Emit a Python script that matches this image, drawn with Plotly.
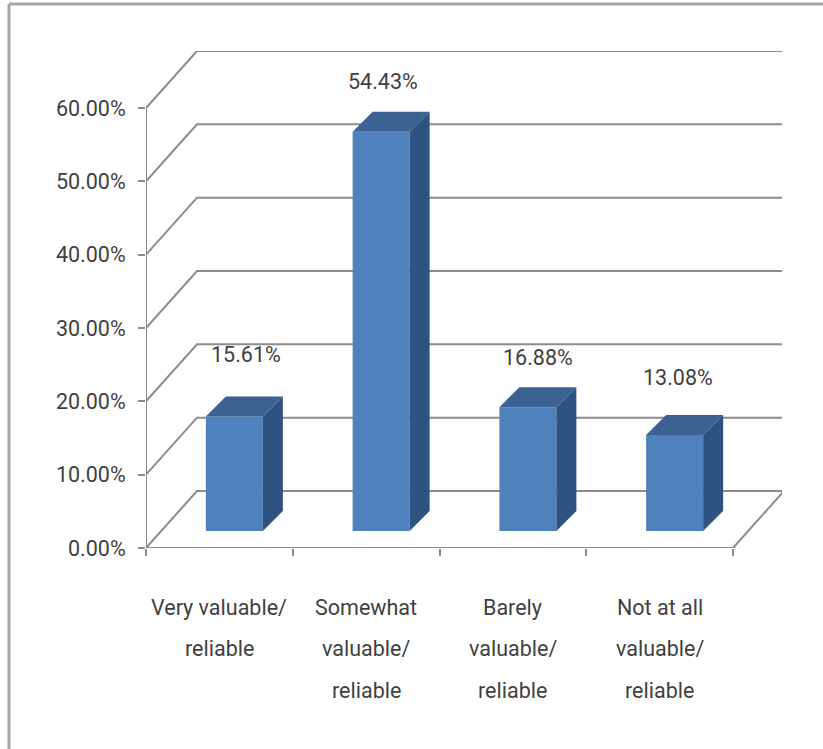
import plotly.graph_objects as go

# ---- data -------------------------------------------------------------
categories = [
    "Very valuable/<br>reliable",
    "Somewhat<br>valuable/<br>reliable",
    "Barely<br>valuable/<br>reliable",
    "Not at all<br>valuable/<br>reliable",
]
shares = [15.61, 54.43, 16.88, 13.08]
y_ticks = [0, 10, 20, 30, 40, 50, 60]
y_tick_labels = ["0.00%", "10.00%", "20.00%", "30.00%", "40.00%", "50.00%", "60.00%"]

# ---- page geometry (pixels) -------------------------------------------
W, H = 823, 749
PLOT_L, PLOT_R, PLOT_T, PLOT_B = 146, 782, 51, 548
CAT_PX = 146.75          # width of one category slot on the floor
PCT_PX = 7.333           # pixels per percentage point

# pseudo-3D offsets, in pixels
WALL_DX, WALL_DY = 51, 57        # floor front edge -> back wall
FRONT_DX, FRONT_DY = 15, 17      # floor front edge -> bar front face
DEPTH_DX, DEPTH_DY = 20, 20      # bar front face -> bar back face
BAR_W_PX = 57

# per-label pixel nudges (x, y above the bar's top back edge)
LABEL_NUDGE = [(1.5, 42), (-8, 30), (0, 30), (-6.5, 38)]

FONT = "Roboto, Liberation Sans, Arial, sans-serif"
FONT_SIZE = 21.5
TEXT_COLOR = "#3f3f3f"
GRID_COLOR = "#8c8c8c"
FRONT_COLOR = "#4f81bd"
TOP_COLOR = "#3b6293"
SIDE_COLOR = "#2f5381"


def dx(px):
    return px / CAT_PX


def dy(px):
    return px / PCT_PX


def paper_x(px):
    return (px - PLOT_L) / (PLOT_R - PLOT_L)


def paper_y(py):
    return (PLOT_B - py) / (PLOT_B - PLOT_T)


n = len(shares)
wdx, wdy = dx(WALL_DX), dy(WALL_DY)
fdx, fdy = dx(FRONT_DX), dy(FRONT_DY)
ddx, ddy = dx(DEPTH_DX), dy(DEPTH_DY)
bw = dx(BAR_W_PX)

fig = go.Figure()

# back wall / side wall gridlines, floor and axis lines (below the bars)
shapes = []
line_style = dict(color=GRID_COLOR, width=2)
for v in y_ticks:
    path = f"M0,{v} L{wdx},{v + wdy} L{n + wdx},{v + wdy}"
    shapes.append(dict(type="path", path=path, xref="x", yref="y",
                       line=line_style, layer="below"))
shapes.append(dict(type="line", xref="x", yref="y", x0=0, y0=0, x1=0, y1=y_ticks[-1],
                   line=line_style, layer="below"))
shapes.append(dict(type="line", xref="x", yref="y", x0=0, y0=0, x1=n, y1=0,
                   line=line_style, layer="below"))
shapes.append(dict(type="line", xref="x", yref="y", x0=n, y0=0, x1=n + wdx, y1=wdy,
                   line=line_style, layer="below"))

# outer chart frame (left and top edges)
frame = dict(color="#a6a6a6", width=3)
shapes.append(dict(type="line", xref="paper", yref="paper",
                   x0=paper_x(9), y0=paper_y(4), x1=paper_x(9), y1=paper_y(H + 5),
                   line=frame, layer="above"))
shapes.append(dict(type="line", xref="paper", yref="paper",
                   x0=paper_x(9), y0=paper_y(4), x1=paper_x(W + 5), y1=paper_y(4),
                   line=frame, layer="above"))

# bar front faces
centers = [i + 0.5 + fdx for i in range(n)]
fig.add_trace(go.Bar(
    x=centers, y=shares, base=[fdy] * n, width=bw,
    marker=dict(color=FRONT_COLOR, line=dict(width=0)),
    hoverinfo="skip", showlegend=False,
))

# bar side and top faces
for c, v in zip(centers, shares):
    left, right = c - bw / 2, c + bw / 2
    bottom, top = fdy, fdy + v
    fig.add_trace(go.Scatter(
        x=[right, right + ddx, right + ddx, right, right],
        y=[bottom, bottom + ddy, top + ddy, top, bottom],
        fill="toself", fillcolor=SIDE_COLOR, mode="lines",
        line=dict(width=0, color=SIDE_COLOR), hoverinfo="skip", showlegend=False,
    ))
    fig.add_trace(go.Scatter(
        x=[left, right, right + ddx, left + ddx, left],
        y=[top, top, top + ddy, top + ddy, top],
        fill="toself", fillcolor=TOP_COLOR, mode="lines",
        line=dict(width=0, color=TOP_COLOR), hoverinfo="skip", showlegend=False,
    ))

annotations = []
# value labels above each column
for c, v, (nx, ny) in zip(centers, shares, LABEL_NUDGE):
    annotations.append(dict(
        x=c + ddx / 2, y=fdy + v + ddy, xref="x", yref="y",
        text=f"{v:.2f}%", showarrow=False, xshift=nx, yshift=ny,
        xanchor="center", yanchor="middle",
        font=dict(family=FONT, size=FONT_SIZE, color=TEXT_COLOR),
    ))

# category labels, one line at a time for wide line spacing
LINE_GAP = 41.5
FIRST_LINE = 59
for i, cat in enumerate(categories):
    for k, part in enumerate(cat.split("<br>")):
        annotations.append(dict(
            x=i + 0.5, y=0, xref="x", yref="paper",
            text=part, showarrow=False, yshift=-(FIRST_LINE + k * LINE_GAP),
            xanchor="center", yanchor="middle",
            font=dict(family=FONT, size=FONT_SIZE, color=TEXT_COLOR),
        ))

fig.update_layout(
    width=W, height=H,
    margin=dict(l=PLOT_L, r=W - PLOT_R, t=PLOT_T, b=H - PLOT_B, pad=0),
    paper_bgcolor="white", plot_bgcolor="white",
    shapes=shapes, annotations=annotations,
    showlegend=False,
    xaxis=dict(
        range=[0, (PLOT_R - PLOT_L) / CAT_PX],
        showgrid=False, zeroline=False, showline=False,
        tickmode="array", tickvals=list(range(n + 1)),
        ticks="outside", ticklen=7, tickwidth=2, tickcolor=GRID_COLOR,
        showticklabels=False, fixedrange=True,
    ),
    yaxis=dict(
        range=[0, (PLOT_B - PLOT_T) / PCT_PX],
        showgrid=False, zeroline=False, showline=False,
        tickmode="array", tickvals=y_ticks, ticktext=y_tick_labels,
        ticks="outside", ticklen=7, tickwidth=2, tickcolor=GRID_COLOR,
        ticklabelstandoff=8,
        tickfont=dict(family=FONT, size=FONT_SIZE, color=TEXT_COLOR),
        fixedrange=True,
    ),
)

fig.write_html("out.html")
